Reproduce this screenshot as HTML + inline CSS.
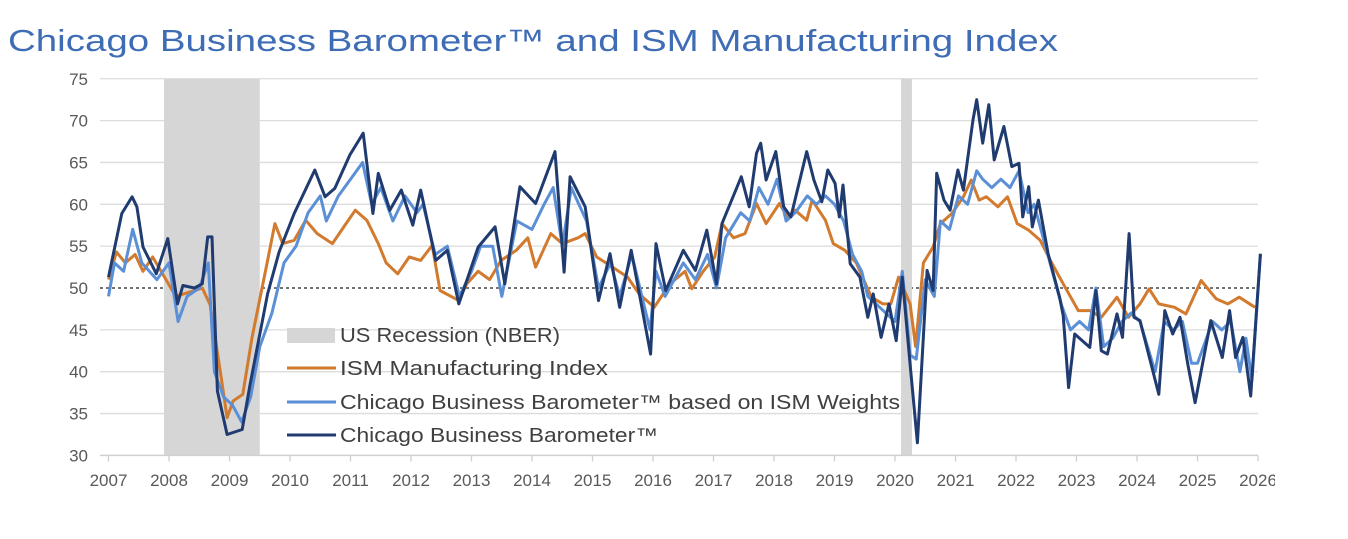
<!DOCTYPE html>
<html><head><meta charset="utf-8"><style>
html,body{margin:0;padding:0;background:#fff;width:1348px;height:539px;overflow:hidden}
svg{display:block}
</style></head><body>
<svg id="chart" width="1348" height="539" viewBox="0 0 1348 539" font-family="Liberation Sans, sans-serif">
<text x="8" y="51" font-size="31" fill="#3f6db5" textLength="1050" lengthAdjust="spacingAndGlyphs">Chicago Business Barometer™ and ISM Manufacturing Index</text>
<g id="grid"></g>
<g id="bands"></g>
<g id="ylab"></g>
<g id="xaxis"></g>
<g id="series"></g>
<g id="legend">
 <rect x="287" y="328" width="48" height="15" fill="#d6d6d6"/>
 <text x="340" y="342" font-size="20" fill="#404040" textLength="220" lengthAdjust="spacingAndGlyphs">US Recession (NBER)</text>
 <line x1="287" y1="368" x2="336" y2="368" stroke="#d27a2e" stroke-width="3"/>
 <text x="340" y="375" font-size="20" fill="#404040" textLength="268" lengthAdjust="spacingAndGlyphs">ISM Manufacturing Index</text>
 <line x1="287" y1="402" x2="336" y2="402" stroke="#5b8fd6" stroke-width="3"/>
 <text x="340" y="409" font-size="20" fill="#404040" textLength="560" lengthAdjust="spacingAndGlyphs">Chicago Business Barometer™ based on ISM Weights</text>
 <line x1="287" y1="435" x2="336" y2="435" stroke="#1f3b70" stroke-width="3"/>
 <text x="340" y="442" font-size="20" fill="#404040" textLength="318" lengthAdjust="spacingAndGlyphs">Chicago Business Barometer™</text>
</g>
</svg>
<script>
const yTicks=[30,35,40,45,50,55,60,65,70,75];
const xYears=[2007,2008,2009,2010,2011,2012,2013,2014,2015,2016,2017,2018,2019,2020,2021,2022,2023,2024,2025,2026];
const recessions=[[2007.917,2009.5],[2020.1,2020.28]];
const ismT=[2007.0,2007.13,2007.28,2007.44,2007.57,2007.73,2007.95,2008.11,2008.55,2008.68,2008.87,2008.96,2009.06,2009.22,2009.37,2009.63,2009.75,2009.88,2010.07,2010.26,2010.45,2010.70,2010.89,2011.08,2011.27,2011.46,2011.59,2011.78,2011.97,2012.16,2012.35,2012.48,2012.79,2012.92,2013.11,2013.30,2013.49,2013.74,2013.93,2014.06,2014.31,2014.50,2014.76,2014.88,2015.07,2015.33,2015.58,2015.77,2016.02,2016.28,2016.53,2016.64,2016.83,2017.02,2017.14,2017.33,2017.52,2017.71,2017.87,2018.09,2018.22,2018.35,2018.54,2018.63,2018.85,2018.98,2019.17,2019.36,2019.61,2019.80,2019.93,2020.06,2020.25,2020.34,2020.47,2020.63,2020.75,2020.94,2021.13,2021.26,2021.39,2021.51,2021.70,2021.86,2022.02,2022.21,2022.40,2022.59,2022.78,2023.03,2023.22,2023.41,2023.67,2023.86,2024.05,2024.20,2024.36,2024.62,2024.81,2025.06,2025.31,2025.50,2025.69,2025.95];
const ismV=[51,54.3,53,54,52,53.7,51,49,50,48,39,34.5,36.5,37.3,44,53.3,57.7,55.3,55.7,58.1,56.5,55.3,57.3,59.3,58.1,55.3,53,51.7,53.7,53.3,55.1,49.7,48.5,50.5,52,51,53.3,54.5,56,52.5,56.5,55.3,56,56.5,53.7,52.5,51.3,49.3,47.7,50.5,52,49.9,52,53.7,57.7,56,56.5,60.1,57.7,60.1,58.5,59.3,58.1,60.5,58.1,55.3,54.5,53,48.9,48.1,48.1,51.3,48.1,43,53,54.9,57.7,58.9,60.9,62.9,60.5,60.9,59.7,60.9,57.7,56.9,55.7,53,50.5,47.3,47.3,46.5,48.9,46.5,48.1,49.9,48.1,47.7,46.9,50.9,48.7,48.1,48.9,47.7];
const cbbwT=[2007.0,2007.1,2007.25,2007.4,2007.55,2007.8,2008.0,2008.15,2008.3,2008.5,2008.65,2008.75,2008.9,2009.05,2009.2,2009.35,2009.5,2009.7,2009.9,2010.1,2010.3,2010.5,2010.6,2010.8,2011.0,2011.2,2011.35,2011.5,2011.7,2011.9,2012.1,2012.2,2012.4,2012.6,2012.8,2013.0,2013.15,2013.35,2013.5,2013.75,2014.0,2014.2,2014.35,2014.5,2014.65,2014.9,2015.1,2015.3,2015.45,2015.65,2015.95,2016.05,2016.2,2016.5,2016.7,2016.9,2017.05,2017.2,2017.45,2017.6,2017.75,2017.9,2018.05,2018.2,2018.35,2018.55,2018.7,2018.85,2019.0,2019.15,2019.3,2019.45,2019.55,2019.7,2019.85,2020.0,2020.12,2020.25,2020.35,2020.5,2020.65,2020.75,2020.9,2021.05,2021.2,2021.35,2021.45,2021.6,2021.75,2021.9,2022.05,2022.2,2022.3,2022.45,2022.6,2022.75,2022.9,2023.05,2023.2,2023.32,2023.45,2023.6,2023.75,2023.9,2024.05,2024.3,2024.45,2024.6,2024.75,2024.9,2025.0,2025.25,2025.4,2025.55,2025.7,2025.8,2025.9,2026.04];
const cbbwV=[49,53,52,57,53,51,53,46,49,50,53,40,37,36,34,37,43,47,53,55,59,61,58,61,63,65,60,62,58,61,59,60,54,55,49,52,55,55,49,58,57,60,62,55,62,58,50,53,49,54,45,52,49,53,51,54,50,56,59,58,62,60,63,58,59,61,60,61,60,58,54,52,49,48,47,46,52,42,41.5,51,49,58,57,61,60,64,63,62,63,62,64,59,60,56,52,48,45,46,45,50,43,44,46,47,46,40,46,45,46,41,41,46,45,46,40,44,39,54];
const cbbT=[2007.0,2007.22,2007.39,2007.47,2007.57,2007.79,2007.98,2008.14,2008.23,2008.42,2008.55,2008.64,2008.71,2008.80,2008.96,2009.21,2009.34,2009.63,2009.82,2010.07,2010.41,2010.58,2010.74,2010.99,2011.21,2011.37,2011.46,2011.65,2011.84,2012.03,2012.16,2012.41,2012.60,2012.79,2013.11,2013.39,2013.55,2013.80,2014.06,2014.38,2014.53,2014.63,2014.88,2015.10,2015.29,2015.45,2015.64,2015.96,2016.05,2016.21,2016.50,2016.70,2016.89,2017.05,2017.14,2017.46,2017.59,2017.71,2017.78,2017.87,2018.03,2018.16,2018.28,2018.54,2018.66,2018.79,2018.89,2019.01,2019.08,2019.14,2019.26,2019.42,2019.55,2019.64,2019.77,2019.90,2020.02,2020.12,2020.25,2020.37,2020.53,2020.63,2020.69,2020.81,2020.91,2021.04,2021.13,2021.29,2021.35,2021.45,2021.55,2021.64,2021.80,2021.93,2022.05,2022.11,2022.21,2022.27,2022.37,2022.53,2022.72,2022.78,2022.87,2022.97,2023.22,2023.32,2023.41,2023.51,2023.67,2023.76,2023.87,2023.95,2024.05,2024.36,2024.46,2024.59,2024.71,2024.84,2024.96,2025.22,2025.41,2025.53,2025.63,2025.75,2025.88,2026.04];
const cbbV=[51.3,58.9,60.9,59.7,54.9,51.7,55.9,48.1,50.3,50,50.5,56.1,56.1,37.7,32.5,33.1,38.5,49.3,54.3,58.9,64.1,60.9,61.9,65.9,68.5,58.9,63.7,59.3,61.7,57.5,61.7,53.3,54.5,48.1,54.9,57.3,50.5,62.1,60.1,66.3,51.9,63.3,59.7,48.5,54.1,47.7,54.5,42.1,55.3,49.7,54.5,52.1,56.9,50.5,57.7,63.3,59.7,66.1,67.3,62.9,66.3,59.7,58.5,66.3,62.9,60.3,64.1,62.5,58.5,62.3,52.9,51.3,46.5,49.3,44.1,48.1,43.7,51.3,40.9,31.5,52.1,49.7,63.7,60.5,59.3,64.1,61.7,70.1,72.5,67.3,71.9,65.3,69.3,64.5,64.9,58.5,62.1,57.3,60.5,54.1,48.9,46.7,38.1,44.5,42.9,49.7,42.5,42.1,46.9,44.1,56.5,46.5,46.1,37.3,47.3,44.5,46.5,40.9,36.3,46.1,41.7,47.3,41.7,44.1,37.1,54.1];

const NS='http://www.w3.org/2000/svg';
const X0=108.5,XS=60.5,Y50=288,YS=8.37,XL=100,XR=1258;
const xAt=t=>X0+(t-2007)*XS;
const yAt=v=>Y50-(v-50)*YS;
function mk(tag,attrs,parent){const e=document.createElementNS(NS,tag);for(const k in attrs)e.setAttribute(k,attrs[k]);parent.appendChild(e);return e;}
const grid=document.getElementById('grid'),ylab=document.getElementById('ylab'),xa=document.getElementById('xaxis'),bands=document.getElementById('bands'),ser=document.getElementById('series');
yTicks.forEach(v=>{
 if(v!==30&&v!==50){const l=mk('line',{x1:XL,x2:XR,y1:yAt(v),y2:yAt(v),stroke:'#dcdcdc','stroke-width':1.3},grid);
 
 }
 const t=mk('text',{x:88,y:yAt(v)+6,'font-size':17,fill:'#595959','text-anchor':'end'},ylab);t.textContent=v;
 
 
});
recessions.forEach((r,i)=>{const b=mk('rect',{x:xAt(r[0]),y:yAt(75),width:xAt(r[1])-xAt(r[0]),height:yAt(30)-yAt(75),fill:'#d6d6d6'},bands);
 
 });
const ref=mk('line',{x1:XL,x2:XR,y1:yAt(50),y2:yAt(50),stroke:'#222','stroke-width':1.2,'stroke-dasharray':'3,3'},grid);


const ax=mk('line',{x1:XL,x2:XR,y1:yAt(30),y2:yAt(30),stroke:'#d0d0d0','stroke-width':1.5},xa);


xYears.forEach(yr=>{const x=xAt(yr);
 const tk=mk('line',{x1:x,x2:x,y1:yAt(30),y2:yAt(30)+6,stroke:'#d0d0d0','stroke-width':1.3},xa);
 
 
 const t=mk('text',{x:x,y:486,'font-size':17,fill:'#595959','text-anchor':'middle'},xa);t.textContent=yr;
 
 });
const cp=mk('clipPath',{id:'clipx'},xa);mk('rect',{x:0,y:0,width:1275,height:539},cp);xa.setAttribute('clip-path','url(#clipx)');
function line(T,V,color,name){const d=T.map((t,i)=>(i?'L':'M')+xAt(t).toFixed(1)+','+yAt(V[i]).toFixed(1)).join('');
 const p=mk('path',{d:d,fill:'none',stroke:color,'stroke-width':3,'stroke-linejoin':'round'},ser);
 
 }
line(ismT,ismV,'#d27a2e','ism-manufacturing-line');
line(cbbwT,cbbwV,'#5b8fd6','cbb-ism-weights-line');
line(cbbT,cbbV,'#1f3b70','cbb-line');
</script>
</body></html>
